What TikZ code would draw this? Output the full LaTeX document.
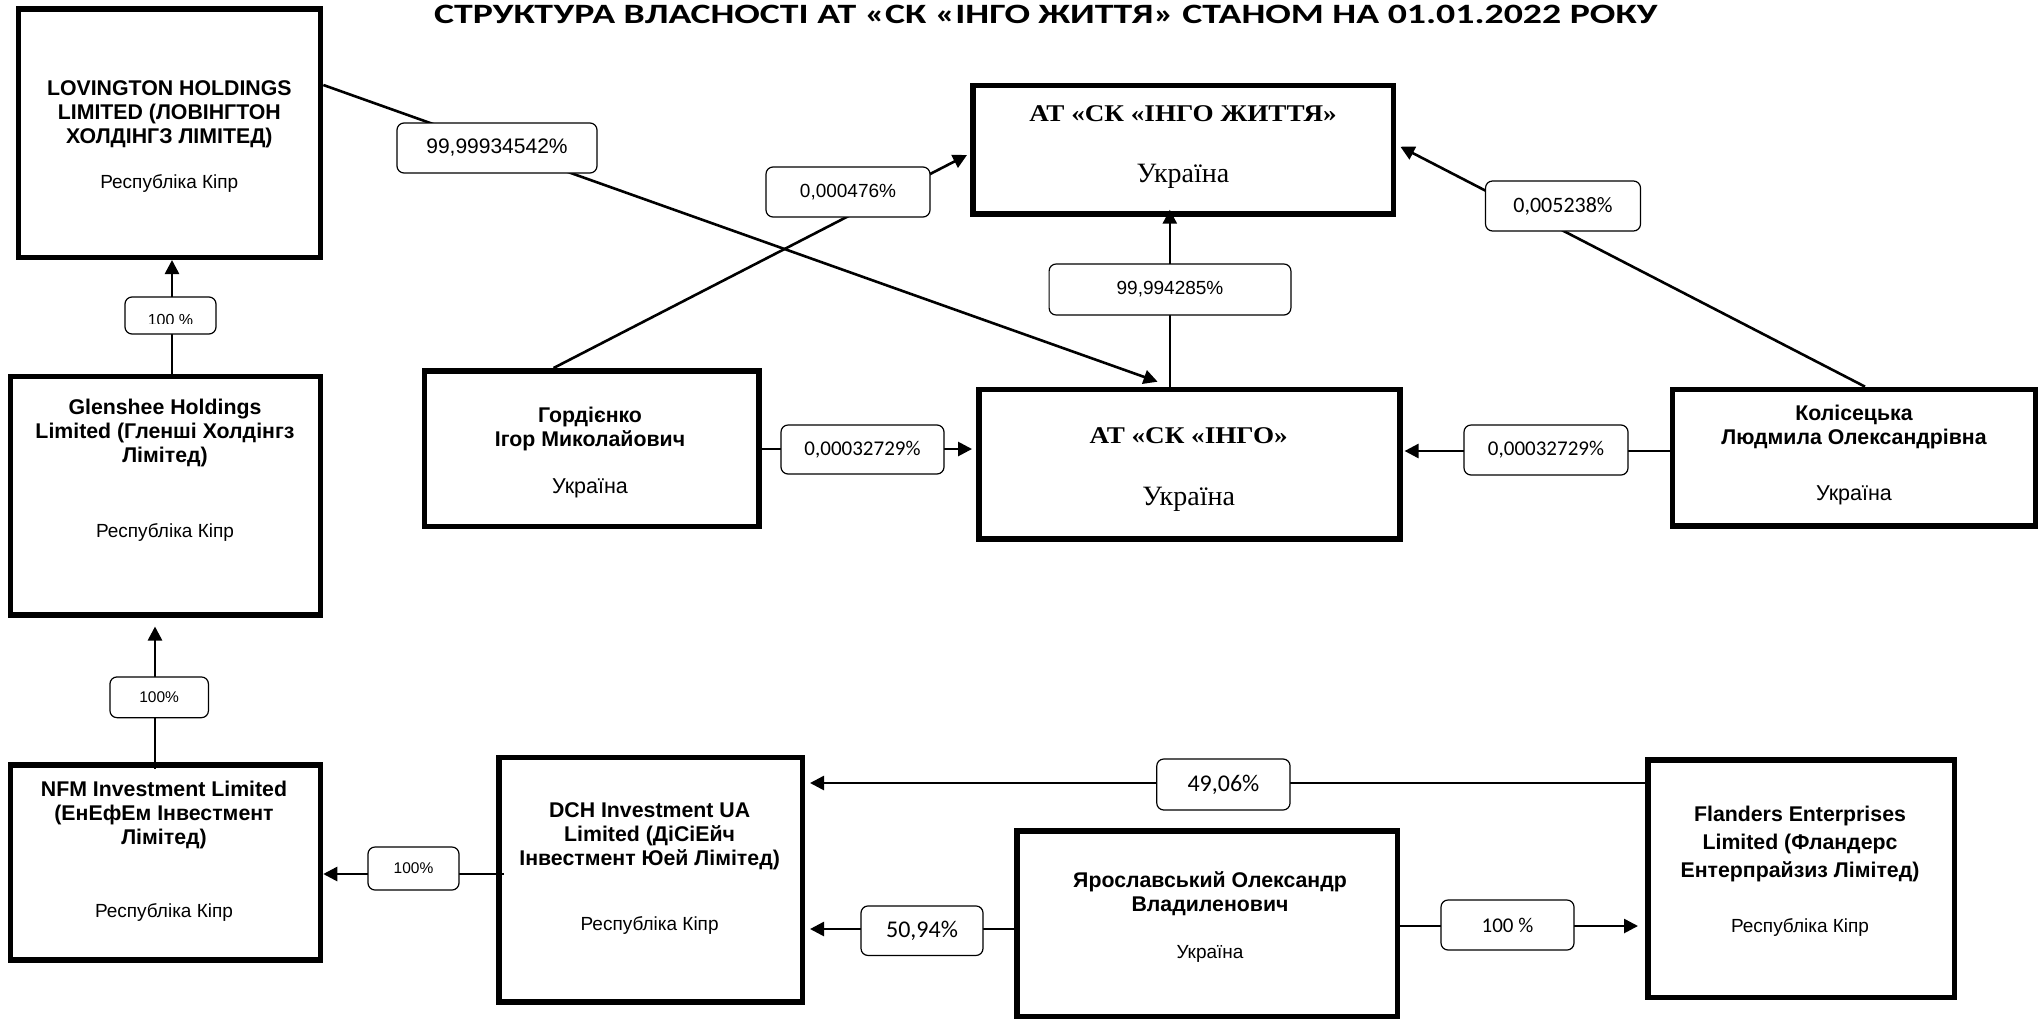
\documentclass[tikz,border=0pt]{standalone}
\usepackage{fontspec}
\setmainfont{Liberation Sans}
\newfontfamily\calfont{Carlito}
\newfontfamily\calwide[FakeStretch=1.35]{Carlito}
\newfontfamily\serifwide[FakeStretch=1.13]{Liberation Serif}
\newfontfamily\seriffont{Liberation Serif}
\usetikzlibrary{arrows.meta,calc}
\tikzset{
  ownbox/.style={draw, line width=5.5pt, inner sep=0pt, rectangle},
  pct/.style={draw, line width=1.2pt, rounded corners=7pt, fill=white, inner sep=0pt, align=center},
  conn/.style={line width=2.6pt},
  arr/.style={conn, -{Triangle[length=14pt,width=14pt]}},
  btitle/.style={font=\fontsize{21.3}{24}\selectfont\bfseries, align=center, anchor=north, inner sep=0pt},
  ctext/.style={font=\fontsize{19}{22}\selectfont, anchor=base, inner sep=0pt},
  stitle/.style={font=\serifwide\bfseries\fontsize{24}{28}\selectfont, anchor=base, inner sep=0pt},
  sctext/.style={font=\seriffont\fontsize{28}{30}\selectfont, anchor=base, inner sep=0pt},
  arialpct/.style={font=\fontsize{#1}{#1}\selectfont},
  calpct/.style={font=\calfont\fontsize{#1}{#1}\selectfont},
}
\begin{document}
\begin{tikzpicture}[x=1pt,y=-1pt]
\fill[white] (0,0) rectangle (2042,1021);
\useasboundingbox (0,0) rectangle (2042,1021);

% title
\node[anchor=base west, inner sep=0pt, font=\calwide\bfseries\fontsize{28}{34}\selectfont] (title) at (434,23)
  {СТРУКТУРА ВЛАСНОСТІ АТ «СК «ІНГО ЖИТТЯ» СТАНОМ НА 01.01.2022 РОКУ};

% boxes
\node[ownbox, minimum width=302pt, minimum height=248.5pt] (lov) at (169.6,133) {};
\node[btitle] (lovt) at (169.3,75.5) {\rule{0pt}{20pt}LOVINGTON HOLDINGS\\LIMITED (ЛОВІНГТОН\\ХОЛДІНГЗ ЛІМІТЕД)};
\node[ctext] (lovc) at (169.3,188) {Республіка Кіпр};

\node[ownbox, minimum width=310pt, minimum height=238.5pt] (gle) at (165.5,495.5) {};
\node[btitle] (glet) at (165,394) {\rule{0pt}{20pt}Glenshee Holdings\\Limited (Гленші Холдінгз\\Лімітед)};
\node[ctext] (glec) at (165,537) {Республіка Кіпр};

\node[ownbox, minimum width=310pt, minimum height=195pt] (nfm) at (165.5,862.4) {};
\node[btitle] (nfmt) at (164,776) {\rule{0pt}{20pt}NFM Investment Limited\\(ЕнЕфЕм Інвестмент\\Лімітед)};
\node[ctext] (nfmc) at (164,917) {Республіка Кіпр};

\node[ownbox, minimum width=303.5pt, minimum height=244.5pt] (dch) at (650.5,879.8) {};
\node[btitle] (dcht) at (649.6,797) {\rule{0pt}{20pt}DCH Investment UA\\Limited (ДіСіЕйч\\Інвестмент Юей Лімітед)};
\node[ctext] (dchc) at (649.6,930) {Республіка Кіпр};

\node[ownbox, minimum width=380.5pt, minimum height=185.5pt] (yar) at (1207,923.5) {};
\node[btitle] (yart) at (1210,867) {\rule{0pt}{20pt}Ярославський Олександр\\Владиленович};
\node[ctext] (yarc) at (1210,958) {Україна};

\node[ownbox, minimum width=306.5pt, minimum height=237.5pt] (fla) at (1801,878.5) {};
\node[btitle, font=\fontsize{21.3}{28}\selectfont\bfseries] (flat) at (1800,801) {\rule{0pt}{20pt}Flanders Enterprises\\Limited (Фландерс\\Ентерпрайзиз Лімітед)};
\node[ctext] (flac) at (1800,932) {Республіка Кіпр};

\node[ownbox, minimum width=334.8pt, minimum height=155.5pt] (gor) at (591.8,448.5) {};
\node[btitle] (gort) at (590,402) {\rule{0pt}{20pt}Гордієнко\\Ігор Миколайович};
\node[ctext, font=\fontsize{21.5}{24}\selectfont] (gorc) at (590,493) {Україна};

\node[ownbox, minimum width=363pt, minimum height=136.8pt] (kol) at (1854.2,457.8) {};
\node[btitle] (kolt) at (1854,400) {\rule{0pt}{20pt}Колісецька\\Людмила Олександрівна};
\node[ctext, font=\fontsize{21.5}{24}\selectfont] (kolc) at (1854,500) {Україна};

\node[ownbox, minimum width=421pt, minimum height=149.5pt] (ingo) at (1189.3,464.2) {};
\node[stitle] (ingot) at (1188.6,443) {АТ «СК «ІНГО»};
\node[sctext] (ingoc) at (1188.6,505.7) {Україна};

\node[ownbox, minimum width=420.5pt, minimum height=128.5pt] (zh) at (1183,149.7) {};
\node[stitle] (zht) at (1183,121.7) {АТ «СК «ІНГО ЖИТТЯ»};
\node[sctext] (zhc) at (1183,182) {Україна};

% helper coordinates for connector lines
\coordinate (v1) at (172,0);
\coordinate (v2) at (155,0);
\coordinate (h3) at (0,874);
\coordinate (h4) at (0,929);
\coordinate (h5) at (0,783);
\coordinate (h6) at (0,926);
\coordinate (h7) at (0,449);
\coordinate (h8) at (0,451);
\coordinate (v9) at (1169.8,0);

% connectors
\draw[arr] (gle.north -| v1) -- (lov.south -| v1);
\draw[arr, shorten <=-7pt, shorten >=9pt] (nfm.north -| v2) -- (gle.south -| v2);
\draw[arr, shorten <=-8pt] (dch.west |- h3) -- (nfm.east |- h3);
\draw[arr, shorten >=5pt] (yar.west |- h4) -- (dch.east |- h4);
\draw[arr, shorten >=5pt] (fla.west |- h5) -- (dch.east |- h5);
\draw[arr, shorten >=7pt] (yar.east |- h6) -- (fla.west |- h6);
\draw[arr, shorten >=4pt] (gor.east |- h7) -- (ingo.west |- h7);
\draw[arr, shorten >=2pt] (kol.west |- h8) -- (ingo.east |- h8);
\draw[arr, shorten >=-7pt] (ingo.north -| v9) -- (zh.south -| v9);
\draw[arr] ([yshift=48pt]lov.east) -- ([xshift=-31.7pt,yshift=5pt]ingo.north);
\draw[arr] ([xshift=-38.2pt]gor.north) -- ([xshift=-3pt,yshift=-5.3pt]zh.west);
\draw[arr] ([xshift=10.8pt]kol.north) -- ([xshift=4.4pt,yshift=3pt]zh.east);

% percentage labels
\node[pct, minimum width=91pt, minimum height=37pt] (l1) at (170.5,315.5) {};
\begin{scope}
  \clip (125,297) rectangle (216,323);
  \node[anchor=base, inner sep=0pt, arialpct=16] (l1t) at (170.5,325) {100 \%};
\end{scope}
\node[pct, minimum width=98.5pt, minimum height=40.7pt, arialpct=15.5] (l2) at (159.2,697.3) {100\%};
\node[pct, minimum width=91pt, minimum height=43pt, arialpct=15.5] (l3) at (413.5,868.5) {100\%};
\node[pct, minimum width=122pt, minimum height=49.5pt, calpct=24] (l4) at (922,930.7) {50,94\%};
\node[pct, minimum width=133.3pt, minimum height=51pt, calpct=24] (l5) at (1223.4,784.5) {49,06\%};
\node[pct, minimum width=133pt, minimum height=50pt, calpct=21] (l6) at (1507.5,925) {100 \%};
\node[pct, minimum width=163pt, minimum height=49pt, calpct=21] (l7) at (862.5,449.5) {0,00032729\%};
\node[pct, minimum width=164pt, minimum height=50pt, calpct=21] (l8) at (1546,450) {0,00032729\%};
\node[pct, minimum width=155pt, minimum height=50pt, calpct=22] (l9) at (1563,206) {0,005238\%};
\node[pct, minimum width=241.8pt, minimum height=51pt, arialpct=19] (l10) at (1170,289.5) {99,994285\%};
\node[pct, minimum width=164pt, minimum height=50pt, arialpct=19] (l11) at (848,192) {0,000476\%};
\node[pct, minimum width=200pt, minimum height=50pt, arialpct=21] (l12) at (497,148) {99,99934542\%};
\end{tikzpicture}
\end{document}
